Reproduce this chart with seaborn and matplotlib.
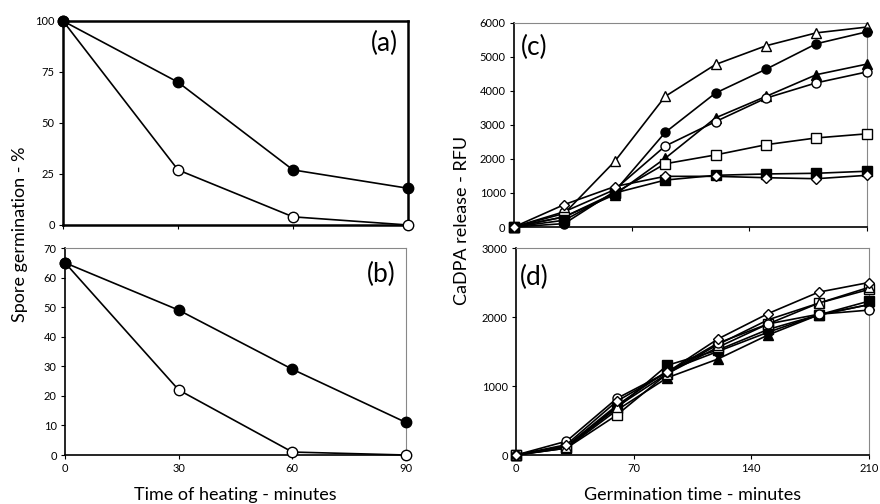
import matplotlib
matplotlib.use("Agg")
import matplotlib.pyplot as plt
import seaborn as sns
import pandas as pd

sns.set_theme(style="white")
plt.rcParams['font.family'] = ['Lato', 'DejaVu Sans']
plt.rcParams['text.color'] = 'black'

# ---- data ----
heat_time = [0, 30, 60, 90]
a_filled = [100, 70, 27, 18]
a_open = [100, 27, 4, 0]
b_filled = [65, 49, 29, 11]
b_open = [65, 22, 1, 0]

germ_time = [0, 30, 60, 90, 120, 150, 180, 210]
c_open_tri = [0, 400, 1930, 3840, 4780, 5330, 5710, 5880]
c_filled_circ = [0, 100, 1050, 2780, 3940, 4640, 5390, 5740]
c_filled_tri = [0, 300, 950, 2020, 3210, 3840, 4480, 4790]
c_open_circ = [0, 450, 1100, 2380, 3100, 3790, 4240, 4560]
c_open_sq = [0, 300, 1000, 1860, 2120, 2420, 2620, 2740]
c_filled_sq = [0, 200, 1000, 1380, 1520, 1560, 1580, 1640]
c_open_dia = [0, 660, 1190, 1490, 1490, 1450, 1420, 1520]

d_open_dia = [0, 150, 780, 1200, 1680, 2050, 2360, 2500]
d_open_tri = [0, 120, 700, 1180, 1600, 1960, 2200, 2430]
d_open_sq = [0, 100, 580, 1180, 1560, 1900, 2200, 2400]
d_filled_sq = [0, 110, 680, 1300, 1520, 1820, 2030, 2230]
d_filled_circ = [0, 130, 720, 1220, 1500, 1780, 2030, 2180]
d_filled_tri = [0, 100, 650, 1120, 1390, 1740, 2030, 2180]
d_open_circ = [0, 200, 820, 1200, 1620, 1900, 2040, 2100]

fig = plt.figure(figsize=(8.8, 5.04), dpi=100)
ax_a = fig.add_axes([0.0716, 0.5536, 0.392, 0.4048])
ax_b = fig.add_axes([0.0739, 0.0972, 0.3875, 0.4107])
ax_c = fig.add_axes([0.584, 0.5496, 0.401, 0.4048])
ax_d = fig.add_axes([0.5864, 0.0972, 0.401, 0.4107])

def series(ax, x, y, marker, filled, ms=7):
    sns.lineplot(x=x, y=y, ax=ax, color='black', linewidth=1.2,
                 marker=marker, markersize=ms,
                 markerfacecolor='black' if filled else 'white',
                 markeredgecolor='black', markeredgewidth=1.0,
                 clip_on=False, zorder=3)

series(ax_a, heat_time, a_open, 'o', False, 7.5)
series(ax_a, heat_time, a_filled, 'o', True, 7.5)
series(ax_b, heat_time, b_open, 'o', False, 7.5)
series(ax_b, heat_time, b_filled, 'o', True, 7.5)

c_list = [(c_open_tri, '^', False), (c_filled_circ, 'o', True), (c_filled_tri, '^', True),
          (c_open_circ, 'o', False), (c_open_sq, 's', False), (c_filled_sq, 's', True),
          (c_open_dia, 'D', False)]
for y, m, f in c_list:
    series(ax_c, germ_time, y, m, f, 6.5 if m != 'D' else 5.5)

d_list = [(d_filled_tri, '^', True), (d_filled_circ, 'o', True), (d_filled_sq, 's', True),
          (d_open_sq, 's', False), (d_open_tri, '^', False), (d_open_circ, 'o', False),
          (d_open_dia, 'D', False)]
for y, m, f in d_list:
    series(ax_d, germ_time, y, m, f, 6.5 if m != 'D' else 5)

# axes styling
ax_a.set_xlim(0, 90); ax_a.set_ylim(0, 100)
ax_a.set_xticks([0, 30, 60, 90]); ax_a.set_xticklabels([])
ax_a.set_yticks([0, 25, 50, 75, 100])
ax_b.set_xlim(0, 90); ax_b.set_ylim(0, 70)
ax_b.set_xticks([0, 30, 60, 90]); ax_b.set_yticks(range(0, 71, 10))
ax_c.set_xlim(0, 210); ax_c.set_ylim(0, 6000)
ax_c.set_xticks([0, 70, 140, 210]); ax_c.set_xticklabels([])
ax_c.set_yticks(range(0, 6001, 1000))
ax_d.set_xlim(0, 210); ax_d.set_ylim(0, 3000)
ax_d.set_xticks([0, 70, 140, 210]); ax_d.set_yticks([0, 1000, 2000, 3000])

for ax in (ax_a, ax_b, ax_c, ax_d):
    ax.set_xlabel(''); ax.set_ylabel('')
    ax.tick_params(axis='both', direction='out', length=3, width=0.8,
                   labelsize=8, pad=3, colors='black', bottom=True, left=True)
    for s in ('left', 'bottom'):
        ax.spines[s].set_color('black'); ax.spines[s].set_linewidth(1.2)
    for s in ('top', 'right'):
        ax.spines[s].set_color('#888888'); ax.spines[s].set_linewidth(0.8)
    ax.grid(False)

for s in ax_a.spines.values():
    s.set_color('black'); s.set_linewidth(1.8)

labfont = dict(fontsize=19)
ax_a.text(0.97, 0.89, '(a)', transform=ax_a.transAxes, ha='right', va='center', **labfont)
ax_b.text(0.97, 0.87, '(b)', transform=ax_b.transAxes, ha='right', va='center', **labfont)
ax_c.text(0.02, 0.88, '(c)', transform=ax_c.transAxes, ha='left', va='center', **labfont)
ax_d.text(0.012, 0.86, '(d)', transform=ax_d.transAxes, ha='left', va='center', **labfont)

fig.text(0.023, 0.535, 'Spore germination - %', rotation=90, ha='center', va='center', fontsize=13)
fig.text(0.525, 0.563, 'CaDPA release - RFU', rotation=90, ha='center', va='center', fontsize=13)
fig.text(0.267, 0.018, 'Time of heating - minutes', ha='center', va='center', fontsize=13)
fig.text(0.787, 0.018, 'Germination time - minutes', ha='center', va='center', fontsize=13)

fig.savefig('out.png', dpi=100, facecolor='white')
